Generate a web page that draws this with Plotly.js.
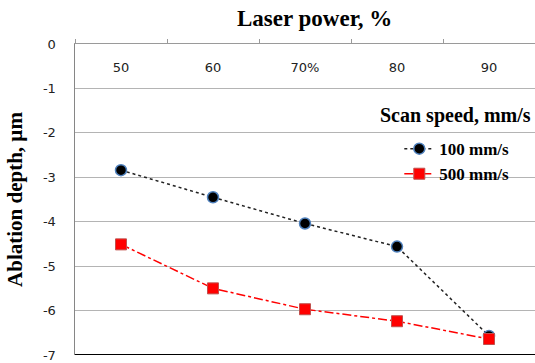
<!DOCTYPE html>
<html><head><meta charset="utf-8">
<script src="https://cdn.plot.ly/plotly-3.0.1.min.js"></script>
<style>html,body{margin:0;padding:0;background:#fff}</style>
</head><body>
<div id="chart" style="width:535px;height:363px"></div>
<script>
const categories = ["50", "60", "70%", "80", "90"];
const speed100 = [-2.84, -3.45, -4.04, -4.56, -6.57];
const speed500 = [-4.51, -5.50, -5.97, -6.24, -6.64];
const yTicks = [0, -1, -2, -3, -4, -5, -6, -7];

const traces = [
  {x: categories, y: speed100, name: "100 mm/s", type: "scatter", mode: "lines+markers",
   line: {color: "#222", width: 1.5, dash: "dot"},
   marker: {symbol: "circle", size: 11, color: "#000", line: {color: "#4f81bd", width: 1.5}}},
  {x: categories, y: speed500, name: "500 mm/s", type: "scatter", mode: "lines+markers",
   line: {color: "#ff0000", width: 1.5, dash: "dashdot"},
   marker: {symbol: "square", size: 11, color: "#ff0000", line: {color: "#c0504d", width: 1}}}
];

const layout = {
  width: 535, height: 363,
  margin: {l: 75, r: 0, t: 44, b: 8},
  paper_bgcolor: "#fff", plot_bgcolor: "#fff",
  showlegend: true,
  legend: {x: 0.705, y: 0.72, xanchor: "left", yanchor: "top", bgcolor: "rgba(0,0,0,0)",
    font: {family: "Liberation Serif", size: 17, color: "#000", weight: "bold"},
    tracegroupgap: 0},
  xaxis: {type: "category", side: "top", showline: true, linecolor: "#9a9a9a", linewidth: 1,
    ticks: "outside", tickson: "boundaries", ticklen: 4, tickcolor: "#9a9a9a",
    ticklabelstandoff: -34,
    tickfont: {family: "DejaVu Sans", size: 13, color: "#222"},
    showgrid: false, zeroline: false, range: [-0.5, 4.5], fixedrange: true},
  yaxis: {range: [-7, 0], tickvals: yTicks, ticktext: yTicks.map(String),
    showline: true, linecolor: "#868686", linewidth: 1.5,
    ticks: "", ticklabelstandoff: 15, ticklabeloverflow: "allow",
    tickfont: {family: "DejaVu Sans", size: 13, color: "#222"},
    showgrid: true, gridcolor: "#b4b4b4", gridwidth: 1, zeroline: false,
    title: {text: "Ablation depth, µm", standoff: 14,
      font: {family: "Liberation Serif", size: 21, color: "#000", weight: "bold"}}},
  annotations: [
    {text: "Laser power, %", xref: "paper", yref: "paper", x: 0.52, y: 1, yshift: 26,
     showarrow: false, xanchor: "center", yanchor: "middle",
     font: {family: "Liberation Serif", size: 23, color: "#000", weight: "bold"}},
    {text: "Scan speed, mm/s", xref: "paper", yref: "paper", x: 0.995, y: 0.77,
     showarrow: false, xanchor: "right", yanchor: "middle",
     font: {family: "Liberation Serif", size: 20, color: "#000", weight: "bold"}}
  ],
  shapes: [
    {type: "line", xref: "paper", yref: "y", x0: 0, x1: 1, y0: -7, y1: -7,
     line: {color: "#000", width: 2}}
  ]
};

Plotly.newPlot("chart", traces, layout, {displayModeBar: false, staticPlot: true});
</script>
</body></html>
